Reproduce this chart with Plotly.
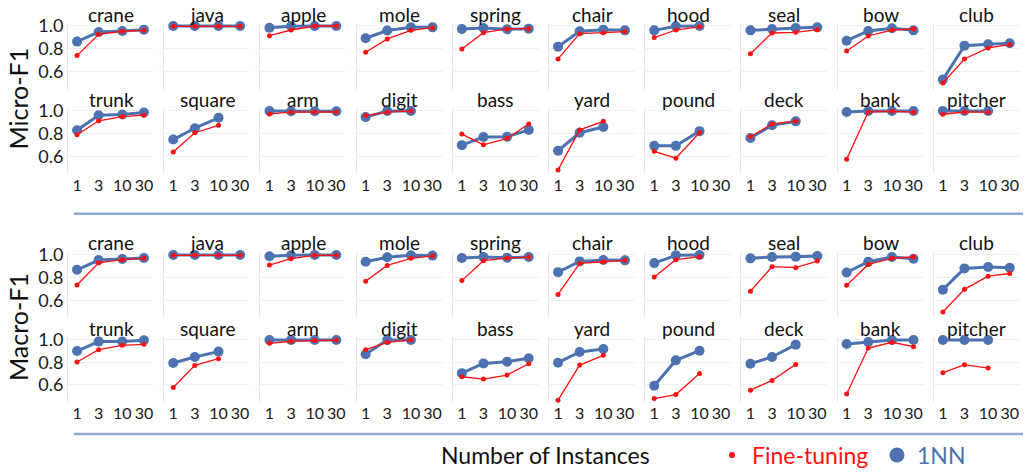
import plotly.graph_objects as go

# ---------------- data ----------------
x_values = [1, 3, 10, 30]
x_tick_labels = ["1", "3", "10", "30"]
y_tick_values = [0.6, 0.8, 1.0]
y_tick_labels = ["0.6", "0.8", "1.0"]

words_row1 = ["crane", "java", "apple", "mole", "spring", "chair", "hood", "seal", "bow", "club"]
words_row2 = ["trunk", "square", "arm", "digit", "bass", "yard", "pound", "deck", "bank", "pitcher"]
words = words_row1 + words_row2

metric_names = ["Micro-F1", "Macro-F1"]
method_names = ["Fine-tuning", "1NN"]

micro_1nn = [
    [0.864, 0.948, 0.957, 0.968],
    [1.0, 1.0, 1.0, 1.0],
    [0.985, 0.997, 1.0, 1.0],
    [0.893, 0.960, 0.988, 0.988],
    [0.974, 0.983, 0.971, 0.977],
    [0.820, 0.954, 0.968, 0.962],
    [0.962, 0.997, 1.0],
    [0.962, 0.974, 0.983, 0.988],
    [0.872, 0.957, 0.980, 0.962],
    [0.533, 0.829, 0.841, 0.849],
    [0.831, 0.963, 0.969, 0.986],
    [0.749, 0.849, 0.940],
    [1.0, 0.997, 0.997, 0.997],
    [0.946, 1.0, 1.0],
    [0.700, 0.771, 0.774, 0.834],
    [0.651, 0.809, 0.860],
    [0.694, 0.694, 0.823],
    [0.763, 0.874, 0.909],
    [0.991, 1.0, 1.0, 1.0],
    [1.0, 1.0, 1.0],
]
micro_ft = [
    [0.742, 0.928, 0.954, 0.962],
    [0.997, 0.997, 0.997, 0.997],
    [0.916, 0.965, 1.0, 1.0],
    [0.771, 0.887, 0.962, 0.985],
    [0.800, 0.942, 0.974, 0.977],
    [0.713, 0.933, 0.942, 0.951],
    [0.899, 0.965, 0.994],
    [0.759, 0.939, 0.945, 0.968],
    [0.783, 0.913, 0.965, 0.974],
    [0.504, 0.713, 0.809, 0.838],
    [0.791, 0.914, 0.951, 0.963],
    [0.640, 0.809, 0.874],
    [0.974, 0.989, 0.991, 0.991],
    [0.960, 0.989, 1.0],
    [0.797, 0.703, 0.760, 0.886],
    [0.483, 0.834, 0.909],
    [0.646, 0.586, 0.809],
    [0.774, 0.886, 0.909],
    [0.577, 0.991, 0.997, 0.989],
    [0.971, 0.991, 0.989],
]
macro_1nn = [
    [0.869, 0.955, 0.964, 0.973],
    [1.0, 1.0, 1.0, 1.0],
    [0.988, 0.997, 1.0, 1.0],
    [0.940, 0.979, 0.997, 0.994],
    [0.973, 0.982, 0.976, 0.982],
    [0.848, 0.943, 0.955, 0.952],
    [0.928, 0.997, 1.0],
    [0.970, 0.982, 0.985, 0.991],
    [0.845, 0.940, 0.982, 0.967],
    [0.693, 0.881, 0.893, 0.887],
    [0.901, 0.985, 0.985, 0.997],
    [0.794, 0.848, 0.896],
    [1.0, 1.0, 1.0, 1.0],
    [0.872, 1.0, 1.0],
    [0.704, 0.791, 0.806, 0.836],
    [0.797, 0.893, 0.919],
    [0.591, 0.818, 0.904],
    [0.788, 0.848, 0.958],
    [0.964, 0.982, 1.0, 1.0],
    [1.0, 1.0, 1.0],
]
macro_ft = [
    [0.734, 0.931, 0.958, 0.970],
    [0.997, 0.997, 0.997, 0.997],
    [0.910, 0.967, 0.997, 0.997],
    [0.767, 0.907, 0.970, 0.991],
    [0.773, 0.949, 0.973, 0.979],
    [0.651, 0.925, 0.940, 0.952],
    [0.806, 0.958, 0.985],
    [0.680, 0.896, 0.887, 0.946],
    [0.731, 0.916, 0.970, 0.982],
    [0.496, 0.696, 0.812, 0.836],
    [0.803, 0.913, 0.952, 0.961],
    [0.576, 0.773, 0.833],
    [0.970, 0.988, 0.994, 0.997],
    [0.913, 0.979, 1.0],
    [0.672, 0.651, 0.687, 0.788],
    [0.463, 0.776, 0.863],
    [0.478, 0.513, 0.701],
    [0.552, 0.639, 0.782],
    [0.519, 0.928, 0.979, 0.940],
    [0.707, 0.779, 0.749],
]

# ---------------- layout constants ----------------
W, H = 1028, 472
FONT = "Lato"
BLUE = "#4c72b0"
RED = "#ff1010"
SEP = "#8eaad6"

col_x0 = 68.0
col_step = 96.2
col_w = 86.0
row_px = [(23.0, 89.5), (108.0, 174.0), (252.0, 317.5), (337.0, 402.0)]
y_range = [0.447, 1.026]

fig = go.Figure()
layout_axes = {}
annotations = []

panel = 0
for metric_idx, (ft_data, nn_data) in enumerate([(micro_ft, micro_1nn), (macro_ft, macro_1nn)]):
    for sub_row in range(2):
        r = metric_idx * 2 + sub_row
        top, bot = row_px[r]
        for c in range(10):
            panel += 1
            wi = sub_row * 10 + c
            xa = "x" if panel == 1 else f"x{panel}"
            ya = "y" if panel == 1 else f"y{panel}"
            x0 = col_x0 + col_step * c
            x1 = x0 + col_w
            nn = nn_data[wi]
            ft = ft_data[wi]
            fig.add_trace(go.Scatter(
                x=x_values[:len(nn)], y=nn, xaxis=xa, yaxis=ya,
                mode="lines+markers", line=dict(color=BLUE, width=3),
                marker=dict(color=BLUE, size=10), showlegend=False,
                cliponaxis=False, hoverinfo="x+y", name="1NN"))
            fig.add_trace(go.Scatter(
                x=x_values[:len(ft)], y=ft, xaxis=xa, yaxis=ya,
                mode="lines+markers", line=dict(color=RED, width=1.3),
                marker=dict(color=RED, size=5), showlegend=False,
                cliponaxis=False, hoverinfo="x+y", name="Fine-tuning"))
            key = "" if panel == 1 else str(panel)
            layout_axes["xaxis" + key] = dict(
                domain=[x0 / W, x1 / W], anchor=ya, type="log",
                range=[-0.2, 1.7], tickvals=x_values, ticktext=x_tick_labels,
                showticklabels=(sub_row == 1), showgrid=False, zeroline=False,
                showline=False, ticks="", automargin=False, tickangle=0,
                tickfont=dict(family=FONT, size=16, color="#1a1a1a"))
            layout_axes["yaxis" + key] = dict(
                domain=[1 - bot / H, 1 - top / H], anchor=xa,
                range=y_range, tickvals=y_tick_values, ticktext=y_tick_labels,
                showticklabels=(c == 0), showgrid=True, gridcolor="#f0f0f0",
                gridwidth=1, zeroline=False, showline=True, linecolor="#e8e8e8",
                linewidth=1, ticks="", automargin=False,
                tickfont=dict(family=FONT, size=18, color="#1a1a1a"))
            annotations.append(dict(
                text=words[wi], x=(x0 + x1) / 2 / W, y=1 - (top - 9) / H,
                xref="paper", yref="paper", xanchor="center", yanchor="middle",
                showarrow=False, font=dict(family=FONT, size=19, color="#111")))

# metric labels
for metric_idx, name in enumerate(metric_names):
    top = row_px[metric_idx * 2][0]
    bot = row_px[metric_idx * 2 + 1][1]
    annotations.append(dict(
        text=name, x=18 / W, y=1 - ((top + bot) / 2) / H, xref="paper", yref="paper",
        textangle=-90, xanchor="center", yanchor="middle", showarrow=False,
        font=dict(family=FONT, size=25, color="#111")))

annotations.append(dict(
    text="Number of Instances", x=545 / W, y=1 - 455 / H, xref="paper", yref="paper",
    xanchor="center", yanchor="middle", showarrow=False,
    font=dict(family=FONT, size=23, color="#111")))

# legend entries (markers only)
fig.add_trace(go.Scatter(
    x=[None], y=[None], mode="markers", marker=dict(color=RED, size=6),
    name=f"<span style='color:{RED}'>{method_names[0]}</span>", showlegend=True))
fig.add_trace(go.Scatter(
    x=[None], y=[None], mode="markers", marker=dict(color=BLUE, size=15),
    name=f"<span style='color:{BLUE}'>{method_names[1]}</span>", showlegend=True))

shapes = []
for yp in [213.7, 434.0]:
    shapes.append(dict(type="line", xref="paper", yref="paper",
                       x0=74 / W, x1=1023 / W, y0=1 - yp / H, y1=1 - yp / H,
                       line=dict(color=SEP, width=2.5)))

fig.update_layout(
    width=W, height=H, margin=dict(l=0, r=0, t=0, b=0, autoexpand=False),
    paper_bgcolor="white", plot_bgcolor="white",
    font=dict(family=FONT, size=16, color="#111"),
    annotations=annotations, shapes=shapes,
    legend=dict(orientation="h", x=712 / W, y=1 - 455 / H, xanchor="left",
                yanchor="middle", font=dict(family=FONT, size=23),
                itemsizing="trace", bgcolor="rgba(0,0,0,0)", itemwidth=30,
                entrywidth=120, borderwidth=0, tracegroupgap=0),
)
fig.update_layout(**layout_axes)

fig.write_html("out.html", config={"displayModeBar": False},
               post_script="document.body.style.margin='0px';document.body.style.padding='0px';")
